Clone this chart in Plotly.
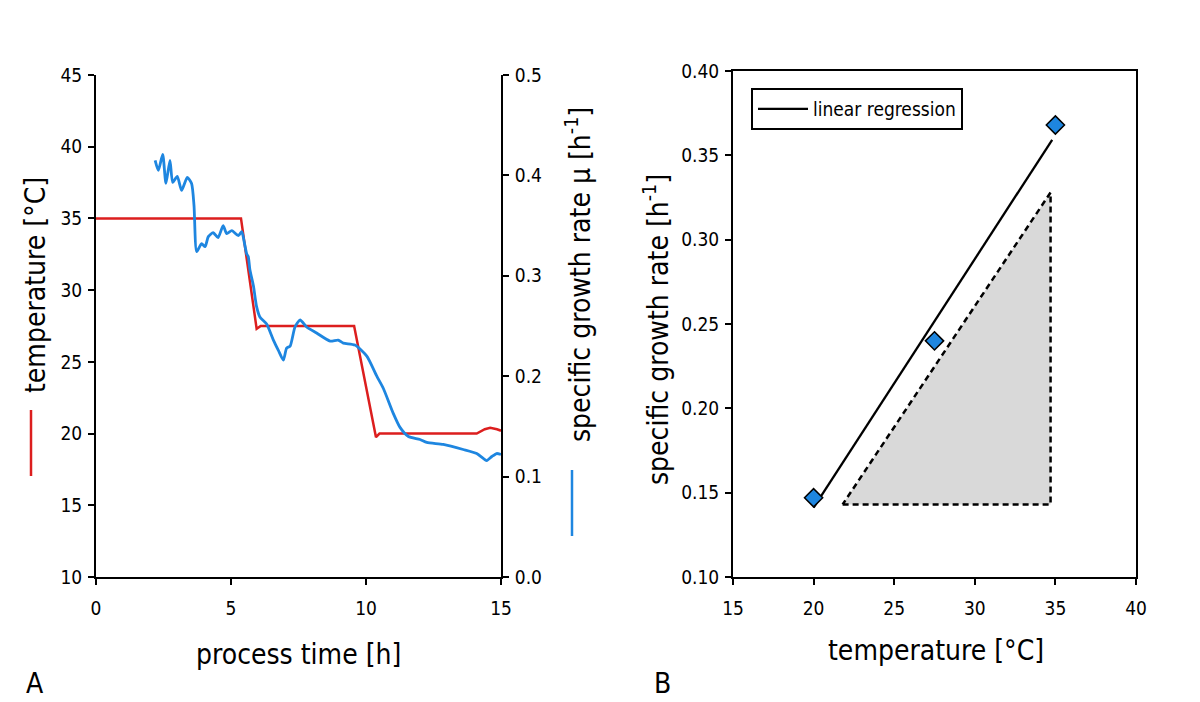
import numpy as np
import plotly.graph_objects as go

# ---------------- Data: panel A ----------------
temp_time = [0, 1.0, 2.1, 3.0, 4.5, 5.37, 5.95, 6.1, 8.0, 9.56, 10.37, 10.5, 12.0, 14.1, 14.4, 14.6, 14.85, 15.0]
temp_vals = [35.0, 35.0, 35.0, 35.0, 35.0, 35.0, 27.3, 27.5, 27.5, 27.5, 19.75, 20.0, 20.0, 20.0, 20.3, 20.4, 20.3, 20.2]

mu_time = [2.19, 2.31, 2.47, 2.59, 2.74, 2.84, 3.01, 3.17, 3.38, 3.54, 3.63, 3.73, 3.91, 4.04, 4.16,
           4.34, 4.52, 4.71, 4.84, 5.03, 5.27, 5.40, 5.48, 5.58, 5.64, 5.70, 5.83, 5.95, 6.07, 6.32,
           6.57, 6.75, 6.94, 7.06, 7.19, 7.37, 7.56, 7.80, 8.17, 8.67, 8.97, 9.16, 9.59, 10.03, 10.40,
           10.64, 11.01, 11.26, 11.57, 12.00, 12.25, 12.86, 13.60, 14.10, 14.47, 14.66, 14.84, 15.0]
mu_vals = [0.415, 0.405, 0.421, 0.392, 0.415, 0.393, 0.399, 0.385, 0.398, 0.392, 0.370, 0.324, 0.332, 0.329, 0.339,
           0.343, 0.338, 0.350, 0.342, 0.345, 0.340, 0.344, 0.335, 0.322, 0.319, 0.306, 0.290, 0.269, 0.259, 0.252,
           0.236, 0.226, 0.216, 0.228, 0.230, 0.249, 0.256, 0.249, 0.243, 0.235, 0.236, 0.233, 0.231, 0.220, 0.200,
           0.188, 0.163, 0.149, 0.140, 0.137, 0.134, 0.132, 0.127, 0.123, 0.116, 0.120, 0.123, 0.122]

# ---------------- Data: panel B ----------------
b_temp = [20.0, 27.5, 35.0]
b_mu = [0.147, 0.240, 0.368]
reg_x = [20.0, 34.8]
tri_x = [21.8, 34.7, 34.7, 21.8]
tri_y = [0.143, 0.143, 0.328, 0.143]

RED = "#DC1E1E"
BLUE = "#1E86E0"
FONT = "DejaVu Sans Condensed, DejaVu Sans"

slope, intercept = np.polyfit(b_temp, b_mu, 1)
reg_y = [slope * x + intercept for x in reg_x]

fig = go.Figure()
fig.add_trace(go.Scatter(x=temp_time, y=temp_vals, mode="lines", line=dict(color=RED, width=2.5),
                         xaxis="x", yaxis="y", showlegend=False))
fig.add_trace(go.Scatter(x=mu_time, y=mu_vals, mode="lines", line=dict(color=BLUE, width=2.8, shape="spline", smoothing=0.6),
                         xaxis="x", yaxis="y2", showlegend=False))

fig.add_trace(go.Scatter(x=tri_x, y=tri_y, mode="lines", fill="toself", fillcolor="#d9d9d9",
                         line=dict(color="black", width=2.5, dash="6px,4px"),
                         xaxis="x3", yaxis="y3", showlegend=False))
fig.add_trace(go.Scatter(x=reg_x, y=reg_y, mode="lines", line=dict(color="black", width=2.3),
                         name="linear regression", xaxis="x3", yaxis="y3", showlegend=True))
fig.add_trace(go.Scatter(x=b_temp, y=b_mu, mode="markers",
                         marker=dict(symbol="diamond", size=14, color=BLUE, line=dict(color="black", width=1.5)),
                         xaxis="x3", yaxis="y3", showlegend=False))

H = 702.0
W = 1200.0
OFF = 8.0  # page body margin


def px(x):
    return (x - OFF) / W


def py(y):
    return (H - (y - OFF)) / H


axis_common = dict(showline=True, linecolor="black", linewidth=2, ticks="outside", ticklen=6,
                   tickwidth=2, tickcolor="black", showgrid=False, zeroline=False, automargin=False,
                   tickfont=dict(family=FONT, size=19, color="black"))

fig.update_layout(
    width=1200, height=702,
    margin=dict(l=0, r=0, t=0, b=0, autoexpand=False),
    paper_bgcolor="white", plot_bgcolor="white",
    font=dict(family=FONT, color="black"),
    xaxis=dict(domain=[px(96), px(501)], range=[0, 15], tickvals=[0, 5, 10, 15], anchor="y",
               ticklabelstandoff=7, **axis_common),
    yaxis=dict(domain=[py(577), py(75)], range=[10, 45], tickvals=[10, 15, 20, 25, 30, 35, 40, 45], anchor="x",
               ticklabelstandoff=2, **axis_common),
    yaxis2=dict(domain=[py(577), py(75)], range=[0, 0.5], tickvals=[0, 0.1, 0.2, 0.3, 0.4, 0.5],
                tickformat=".1f", overlaying="y", side="right", anchor="x", ticklabelstandoff=2, **axis_common),
    xaxis3=dict(domain=[px(733), px(1136)], range=[15, 40], tickvals=[15, 20, 25, 30, 35, 40], anchor="y3",
                mirror=True, ticklabelstandoff=7, **axis_common),
    yaxis3=dict(domain=[py(577), py(71)], range=[0.10, 0.40], tickvals=[0.10, 0.15, 0.20, 0.25, 0.30, 0.35, 0.40],
                tickformat=".2f", anchor="x3", mirror=True, ticklabelstandoff=2, **axis_common),
    legend=dict(x=px(751), y=py(88), xanchor="left", yanchor="top", bgcolor="white", itemwidth=50,
                bordercolor="black", borderwidth=2, font=dict(family=FONT, size=19, color="black")),
    annotations=[
        dict(text="process time [h]", x=px(298), y=py(654), xref="paper", yref="paper",
             showarrow=False, font=dict(family=FONT, size=28), xanchor="center", yanchor="middle"),
        dict(text="temperature [°C]", x=px(936), y=py(650), xref="paper", yref="paper",
             showarrow=False, font=dict(family=FONT, size=28), xanchor="center", yanchor="middle"),
        dict(text="temperature [°C]", x=px(35), y=py(285), xref="paper", yref="paper", textangle=-90,
             showarrow=False, font=dict(family=FONT, size=28), xanchor="center", yanchor="middle"),
        dict(text="specific growth rate μ [h<sup>-1</sup>]", x=px(578), y=py(275), xref="paper", yref="paper",
             textangle=-90, showarrow=False, font=dict(family=FONT, size=28), xanchor="center", yanchor="middle"),
        dict(text="specific growth rate [h<sup>-1</sup>]", x=px(656), y=py(330), xref="paper", yref="paper",
             textangle=-90, showarrow=False, font=dict(family=FONT, size=28), xanchor="center", yanchor="middle"),
        dict(text="A", x=px(35), y=py(683), xref="paper", yref="paper",
             showarrow=False, font=dict(family=FONT, size=28), xanchor="center", yanchor="middle"),
        dict(text="B", x=px(662), y=py(683), xref="paper", yref="paper",
             showarrow=False, font=dict(family=FONT, size=28), xanchor="center", yanchor="middle"),
    ],
    shapes=[
        dict(type="line", xref="paper", yref="paper", x0=px(31), x1=px(31), y0=py(410), y1=py(476),
             line=dict(color=RED, width=2.5)),
        dict(type="line", xref="paper", yref="paper", x0=px(572), x1=px(572), y0=py(470), y1=py(536),
             line=dict(color=BLUE, width=2.5)),
    ],
)

fig.write_html("out.html")
